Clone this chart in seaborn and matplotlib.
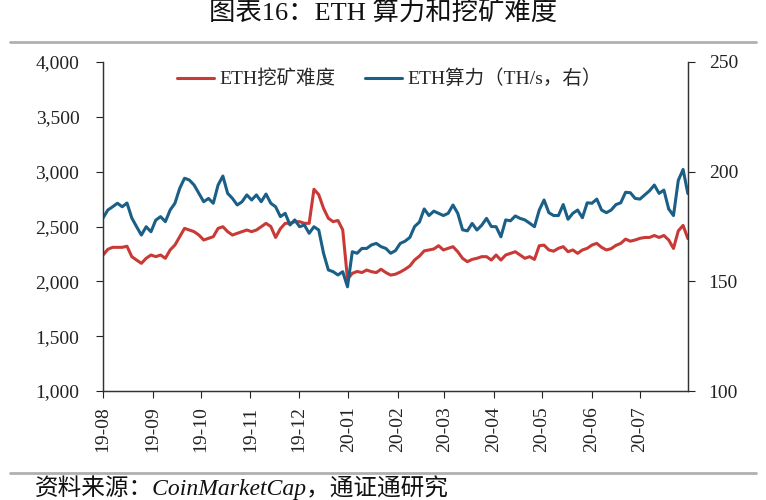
import matplotlib
matplotlib.use("Agg")
import matplotlib.pyplot as plt
from matplotlib.lines import Line2D
from matplotlib.ticker import FuncFormatter
import matplotlib.dates as mdates
import pandas as pd
import seaborn as sns

sns.set_style("ticks")
plt.rcParams["font.family"] = ["Liberation Serif", "Noto Sans CJK SC"]

# sample dates (about every 3 days, Aug 2019 - Jul 2020)
dates = pd.date_range("2019-08-01", "2020-07-31", periods=123)

# ETH mining difficulty (left axis)
difficulty = [
    2240, 2292, 2310, 2310, 2310, 2320, 2225, 2194, 2164, 2210, 2240, 2225, 2240, 2210, 2286, 2331,
    2407, 2483, 2468, 2453, 2422, 2377, 2392, 2407, 2483, 2498, 2453, 2422, 2438, 2453, 2468,
    2453, 2468, 2498, 2529, 2500, 2400, 2480, 2529, 2529, 2544, 2544, 2529, 2529, 2840, 2790,
    2666, 2575, 2544, 2555, 2470, 2020, 2073, 2090, 2080, 2103, 2088, 2080, 2110, 2080, 2057,
    2065, 2085, 2110, 2140, 2195, 2230, 2278, 2286, 2295, 2325, 2286, 2301, 2316, 2270, 2210,
    2179, 2200, 2210, 2225, 2225, 2194, 2240, 2194, 2240, 2255, 2270, 2240, 2210, 2225, 2200,
    2325, 2330, 2286, 2275, 2301, 2316, 2270, 2286, 2255, 2286, 2301, 2331, 2346, 2310, 2286,
    2298, 2328, 2346, 2385, 2366, 2377, 2392, 2400, 2400, 2418, 2400, 2418, 2377, 2300, 2460,
    2510, 2390,
]

# ETH hash rate, TH/s (right axis)
hashrate = [
    178.9, 182.5, 184.0, 185.6, 184.0, 185.7, 178.9, 174.9, 171.1, 174.9, 172.6, 177.9, 179.5,
    177.2, 182.5, 185.6, 192.4, 197.0, 196.2, 193.9, 190.1, 186.3, 187.8, 185.6, 193.9, 198.0,
    190.1, 187.8, 184.8, 186.3, 189.4,
    187.1, 189.4, 186.3, 189.8, 185.6, 184.0, 179.5, 181.0, 175.7, 178.0, 174.9, 175.7, 171.9,
    174.9, 173.4, 162.8, 155.2, 154.4, 152.9, 154.4, 147.5, 163.5, 162.8, 165.0, 165.0, 166.6,
    167.3, 165.8, 165.0, 162.8,
    164.0, 167.3, 168.3, 170.0, 175.0, 177.0, 183.0, 180.0, 182.0, 181.0, 180.0, 181.0, 184.8,
    181.0, 173.5, 173.0, 176.4, 173.4, 175.6, 178.7, 175.0, 174.9, 170.3, 178.0, 177.6, 179.8,
    178.7, 178.0, 176.5, 174.9,
    182.5, 187.1, 181.3, 180.0, 180.0, 185.0, 178.3, 181.0, 182.5, 179.0, 185.8, 185.6, 187.5,
    182.5, 181.3, 182.5, 185.0, 185.8, 190.6, 190.4, 187.8, 187.5, 189.4, 191.3, 193.9, 190.1,
    191.6, 183.0, 180.0, 196.0, 201.0, 190.0,
]

title = "图表16：ETH 算力和挖矿难度"
source = "资料来源：CoinMarketCap，通证通研究"
label_diff = "ETH挖矿难度"
label_hash = "ETH算力（TH/s，右）"

red = "#C93A36"
blue = "#1A5F87"

fig = plt.figure(figsize=(7.66, 5.0), dpi=100)
ax = fig.add_axes([0.1345, 0.218, 0.7635, 0.658])

sns.lineplot(x=dates, y=difficulty, ax=ax, color=red, lw=2.2)
ax2 = ax.twinx()
sns.lineplot(x=dates, y=hashrate, ax=ax2, color=blue, lw=2.2)

ax.set_ylim(1000, 4000)
ax.set_yticks(range(1000, 4001, 500))
ax.yaxis.set_major_formatter(FuncFormatter(lambda v, p: f"{v:,.0f}"))
ax2.set_ylim(100, 250)
ax2.set_yticks([100, 150, 200, 250])

ax.set_xlim(pd.Timestamp("2019-08-01"), pd.Timestamp("2020-07-31"))
ax.xaxis.set_major_locator(mdates.MonthLocator())
ax.xaxis.set_major_formatter(mdates.DateFormatter("%y-%m"))
for lbl in ax.get_xticklabels():
    lbl.set_rotation(90)

ax.set_xlabel("")
ax.set_ylabel("")
ax2.set_ylabel("")

for a in (ax, ax2):
    a.spines["top"].set_visible(False)
    a.tick_params(direction="out", length=5, width=0.8, labelsize=14, colors="#222222")
    for s in a.spines.values():
        s.set_color("#333333")
        s.set_linewidth(0.9)
ax.tick_params(axis="y", pad=12)
ax2.tick_params(axis="y", pad=10)
ax.tick_params(axis="x", pad=6)

handles = [Line2D([], [], color=red, lw=2.2), Line2D([], [], color=blue, lw=2.2)]
ax.legend(handles, [label_diff, label_hash], loc="upper center", bbox_to_anchor=(0.49, 1.03),
          ncol=2, frameon=False, fontsize=14, handlelength=1.9, handletextpad=0.3,
          columnspacing=1.5)

# title, separators and source
fig.text(0.5, 1 - 12 / 500, title, ha="center", va="center", fontsize=19, color="#111111")
fig.add_artist(Line2D([10 / 766, 756 / 766], [1 - 42 / 500] * 2, color="#b0b0b0", lw=2))
fig.add_artist(Line2D([10 / 766, 756 / 766], [1 - 473 / 500] * 2, color="#b0b0b0", lw=2))
fig.text(35 / 766, 1 - 488 / 500, source, ha="left", va="center", fontsize=17,
         style="italic", color="#111111")

fig.savefig("out.png", dpi=100)
